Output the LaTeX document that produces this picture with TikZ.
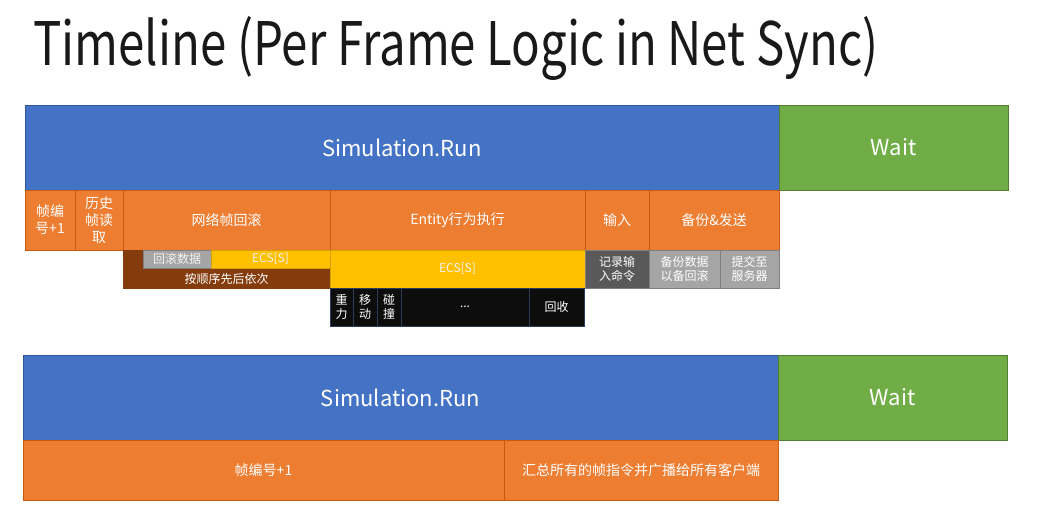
\documentclass[tikz,border=0pt]{standalone}
\usepackage{fontspec}
\usepackage{graphicx}
\setmainfont{Noto Sans CJK SC}
\definecolor{cblue}{HTML}{4472C4}
\definecolor{cblueb}{HTML}{2F5597}
\definecolor{cgreen}{HTML}{70AD47}
\definecolor{cgreenb}{HTML}{507E32}
\definecolor{corange}{HTML}{ED7D31}
\definecolor{corangeb}{HTML}{C55A11}
\definecolor{cyellow}{HTML}{FFC000}
\definecolor{cyellowb}{HTML}{D6A100}
\definecolor{cbrown}{HTML}{843C0C}
\definecolor{cdgray}{HTML}{595959}
\definecolor{cgray}{HTML}{A5A5A5}
\definecolor{cgrayb}{HTML}{7F7F7F}
\definecolor{cblack}{HTML}{0D0D0D}
\definecolor{cblackb}{HTML}{2F3B5A}
\definecolor{clight}{HTML}{F2F2F2}
\newcommand\bx[7]{\node[box,#6,minimum width={(#4-#2)*1pt},minimum height={(#5-#3)*1pt}] (#1) at (#2,#3) {#7};}
\begin{document}
\begin{tikzpicture}[x=1pt,y=-1pt,
  box/.style={draw, line width=0.7pt, inner sep=0pt, outer sep=0pt, text=white, align=center, anchor=north west},
  big/.style={font=\fontsize{22}{26}\selectfont},
  mid/.style={font=\fontsize{14}{17}\selectfont},
  small/.style={font=\fontsize{12}{14}\selectfont},
  blu/.style={fill=cblue, draw=cblueb},
  grn/.style={fill=cgreen, draw=cgreenb},
  org/.style={fill=corange, draw=corangeb},
  ylw/.style={fill=cyellow, draw=cyellowb, text=clight},
  brn/.style={fill=cbrown, draw=cbrown},
  dgr/.style={fill=cdgray, draw=cgrayb},
  gry/.style={fill=cgray, draw=cgrayb},
  blk/.style={fill=cblack, draw=cblackb}]
\useasboundingbox (0,0) rectangle (1046,518);
\node[anchor=base west, inner sep=0pt, font=\fontsize{60}{62}\selectfont, text=black!90] (title) at (33,66) {\resizebox{845pt}{\height}{Timeline (Per Frame Logic in Net Sync)}};
% top section
\bx{run1}{25}{105}{779}{190}{blu,big}{Simulation.Run}
\bx{wait1}{779}{105}{1008}{190}{grn,big}{Wait}
\bx{fno}{25}{190}{75}{250}{org,mid}{帧编\\号+1}
\bx{hist}{75}{190}{123}{250}{org,mid}{历史\\帧读\\取}
\bx{roll}{123}{190}{330}{250}{org,mid}{网络帧回滚}
\bx{ent}{330}{190}{585}{250}{org,mid}{Entity行为执行}
\bx{inp}{585}{190}{649}{250}{org,mid}{输入}
\bx{bak}{649}{190}{779}{250}{org,mid}{备份\&发送}
\bx{order}{123}{250}{330}{288}{brn,small}{}
\node[small, text=white, inner sep=0pt] (ordert) at (226.5,278.5) {按顺序先后依次};
\bx{rdata}{143}{250}{211}{268}{gry,small,text=clight}{回滚数据}
\bx{ecs1}{211}{250}{330}{268}{ylw,small}{ECS[S]}
\bx{ecs2}{330}{250}{585}{288}{ylw,small}{ECS[S]}
\bx{rec}{585}{250}{649}{288}{dgr,small}{记录输\\入命令}
\bx{bdata}{649}{250}{720}{288}{gry,small}{备份数据\\以备回滚}
\bx{sub}{720}{250}{779}{288}{gry,small}{提交至\\服务器}
\bx{grav}{330}{288}{353}{326}{blk,small}{重\\力}
\bx{move}{353}{288}{377}{326}{blk,small}{移\\动}
\bx{coll}{377}{288}{401}{326}{blk,small}{碰\\撞}
\bx{dots}{401}{288}{529}{326}{blk,small}{...}
\bx{recy}{529}{288}{584}{326}{blk,small}{回收}
% bottom section
\bx{run2}{23}{355}{778}{440}{blu,big}{Simulation.Run}
\bx{wait2}{778}{355}{1007}{440}{grn,big}{Wait}
\bx{fno2}{23}{440}{504}{500}{org,mid}{帧编号+1}
\bx{bcast}{504}{440}{778}{500}{org,mid}{汇总所有的帧指令并广播给所有客户端}
\end{tikzpicture}
\end{document}
